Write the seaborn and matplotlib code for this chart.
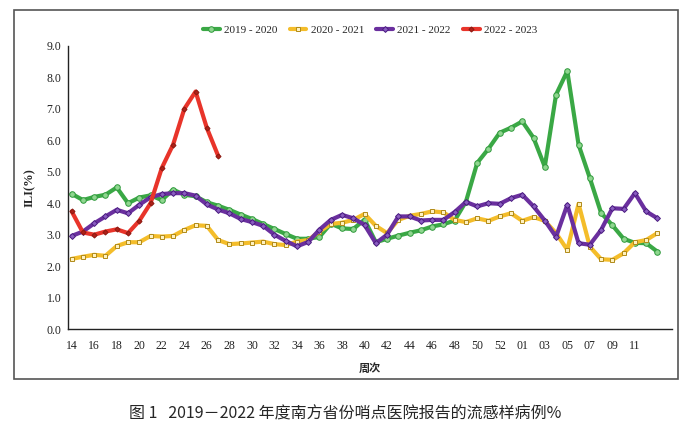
import numpy as np
import pandas as pd
import seaborn as sns
import matplotlib.pyplot as plt
from matplotlib.patches import Rectangle

sns.set_theme(style="white")
plt.rcParams['font.family'] = ['Liberation Serif', 'Noto Sans CJK SC', 'DejaVu Sans']

# week categories (season runs week 14 -> week 13 of next year)
weeks = [str(w) for w in range(14, 54)] + ["%02d" % w for w in range(1, 14)]

ili_2019 = [4.3, 4.1, 4.2, 4.27, 4.5, 4.0, 4.18, 4.25, 4.1, 4.43, 4.27, 4.22, 4.03,
            3.92, 3.79, 3.64, 3.5, 3.34, 3.18, 3.02, 2.87, 2.87, 2.93, 3.35, 3.2,
            3.18, 3.48, 2.76, 2.87, 2.97, 3.06, 3.14, 3.26, 3.33, 3.45, 4.05, 5.28,
            5.73, 6.24, 6.4, 6.6, 6.08, 5.16, 7.45, 8.2, 5.86, 4.8, 3.69, 3.3, 2.87,
            2.74, 2.73, 2.46]
ili_2020 = [2.23, 2.3, 2.36, 2.33, 2.64, 2.76, 2.76, 2.96, 2.94, 2.96, 3.15, 3.3, 3.28,
            2.83, 2.7, 2.72, 2.75, 2.78, 2.7, 2.67, 2.78, 2.83, 3.1, 3.34, 3.38,
            3.47, 3.66, 3.28, 3.05, 3.47, 3.6, 3.66, 3.74, 3.71, 3.47, 3.4, 3.52,
            3.44, 3.58, 3.68, 3.44, 3.56, 3.44, 3.05, 2.52, 3.98, 2.62, 2.22, 2.2,
            2.41, 2.76, 2.83, 3.05]
ili_2021 = [2.96, 3.1, 3.36, 3.58, 3.79, 3.68, 3.95, 4.19, 4.29, 4.32, 4.32, 4.24, 3.96,
            3.8, 3.68, 3.5, 3.4, 3.28, 3.0, 2.8, 2.63, 2.77, 3.16, 3.47, 3.63,
            3.52, 3.31, 2.73, 3.0, 3.58, 3.58, 3.45, 3.47, 3.47, 3.72, 4.04, 3.9,
            4.0, 3.98, 4.16, 4.27, 3.9, 3.45, 2.93, 3.95, 2.73, 2.68, 3.15, 3.84,
            3.82, 4.32, 3.74, 3.52]
ili_2022 = [3.74, 3.07, 3.0, 3.1, 3.17, 3.05, 3.44, 4.0, 5.12, 5.86, 7.0, 7.55, 6.39, 5.51]

seasons = ["2019 - 2020", "2020 - 2021", "2021 - 2022", "2022 - 2023"]
values = [ili_2019, ili_2020, ili_2021, ili_2022]
colors = ["#3aa845", "#f4bd2a", "#6a2f9e", "#e8342a"]
faces = ["#8fd68f", "#fff1c0", "#8a5cc0", "#b02018"]
edges = ["#2f9a3c", "#b08a18", "#4a1c80", "#8a1a12"]
mk = ["o", "s", "D", "D"]
ms = [4, 3.5, 3, 2.6]

fig = plt.figure(figsize=(6.9, 4.33), dpi=100)
ax = fig.add_axes([0.099, 0.240, 0.875, 0.654])

for s, v, c, fc, ec, m, sz in zip(seasons, values, colors, faces, edges, mk, ms):
    df = pd.DataFrame({"pos": np.arange(len(v)), "ili": v})
    sns.lineplot(data=df, x="pos", y="ili", ax=ax, color=c, linewidth=3.0,
                 marker=m, markersize=sz, markerfacecolor=fc, markeredgecolor=ec,
                 markeredgewidth=0.7, label=s)

ax.set_ylim(0, 9)
ax.set_yticks(np.arange(0, 9.5, 1.0))
ax.set_yticklabels(["%.1f" % t for t in np.arange(0, 9.5, 1.0)], fontsize=8.5)
ax.set_xlim(-0.3, 53.3)
ax.set_xticks(np.arange(len(weeks)))
ax.set_xticklabels([w if (i % 2 == 0 and i <= 50) else "" for i, w in enumerate(weeks)],
                   fontsize=8.5)
ax.tick_params(axis="x", direction="inout", length=4, width=0.8, pad=6, colors="#222222")
ax.tick_params(axis="y", direction="out", length=3, width=0.8, pad=2, colors="#222222")
for sp in ["top", "right"]:
    ax.spines[sp].set_visible(False)
for sp in ["left", "bottom"]:
    ax.spines[sp].set_color("#222222")
    ax.spines[sp].set_linewidth(1.0)

ax.set_ylabel("ILI(%)", fontsize=9, fontweight="bold", labelpad=8)
ax.set_xlabel("周次", fontsize=8, fontweight="bold", labelpad=7,
              family=["Noto Sans CJK SC", "DejaVu Sans"])

ax.legend(loc="upper center", bbox_to_anchor=(0.5, 1.11), ncol=4, frameon=False,
          fontsize=8, handlelength=1.5, columnspacing=1.1, handletextpad=0.4)

# outer frame around the chart
fig.patches.append(Rectangle((0.02, 0.125), 0.962, 0.852, transform=fig.transFigure,
                             fill=False, edgecolor="#555555", linewidth=1.2))

fig.text(0.5, 0.045, "图 1   2019－2022 年度南方省份哨点医院报告的流感样病例%",
         ha="center", va="center", fontsize=11.5,
         family=["Noto Sans CJK SC", "DejaVu Sans"])

fig.savefig("out.png", dpi=100)
